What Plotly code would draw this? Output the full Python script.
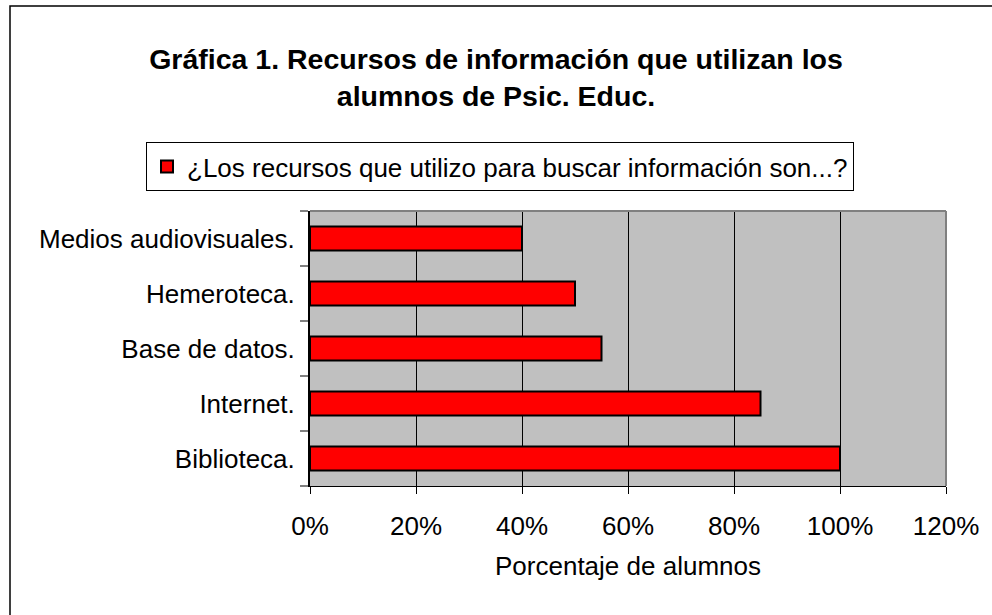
import plotly.graph_objects as go

categories = ["Biblioteca.", "Internet.", "Base de datos.", "Hemeroteca.", "Medios audiovisuales."]
values = [1.00, 0.85, 0.55, 0.50, 0.40]
x_ticks = [0, 0.2, 0.4, 0.6, 0.8, 1.0, 1.2]
x_tick_labels = ["0%", "20%", "40%", "60%", "80%", "100%", "120%"]
series_name = "¿Los recursos que utilizo para buscar información son...?"
title_text = "Gráfica 1. Recursos de información que utilizan los<br>alumnos de Psic. Educ."
x_title = "Porcentaje de alumnos"

W, H = 992, 615
L, R, T, B = 310, 946, 211, 486

def px_x(p):
    return (p - L) / (R - L)

def px_y(p):
    return (B - p) / (B - T)

FONT = "Liberation Sans, Arial, sans-serif"

fig = go.Figure()
fig.add_trace(go.Bar(
    y=categories, x=values, orientation="h", name=series_name,
    marker=dict(color="#FF0000", line=dict(color="black", width=2)),
    width=0.44, showlegend=True,
))

fig.update_layout(
    width=W, height=H,
    margin=dict(l=L, r=W - R, t=T, b=H - B, autoexpand=False),
    paper_bgcolor="white", plot_bgcolor="#C0C0C0",
    font=dict(family=FONT, size=26, color="black"),
    title=dict(text="<b>" + title_text + "</b>", x=0.5, xref="container", xanchor="center",
               y=1 - 69 / H, yref="container", yanchor="middle",
               font=dict(size=28.5, family=FONT, color="black")),
    showlegend=True,
    legend=dict(x=px_x(146), y=px_y(142), xanchor="left", yanchor="top",
                orientation="h", bordercolor="black", borderwidth=1,
                bgcolor="white", font=dict(size=26), itemwidth=30),
    xaxis=dict(range=[0, 1.2], tickvals=x_ticks, ticktext=x_tick_labels,
               showgrid=True, gridcolor="black", gridwidth=1,
               showline=True, linecolor="black", linewidth=1,
               ticks="outside", ticklen=7, tickcolor="black",
               ticklabelstandoff=10, zeroline=False,
               title=dict(text=x_title, standoff=16, font=dict(size=26))),
    yaxis=dict(showgrid=False, showline=True, linecolor="black", linewidth=2,
               ticks="outside", ticklen=8, tickcolor="#808080", tickwidth=2,
               tickson="boundaries", ticklabelstandoff=8),
)

# plot-area top/right border in grey
fig.add_shape(type="line", xref="paper", yref="paper", x0=0, x1=1, y0=1, y1=1,
              line=dict(color="#808080", width=2), layer="above")
fig.add_shape(type="line", xref="paper", yref="paper", x0=1, x1=1, y0=0, y1=1,
              line=dict(color="#808080", width=2), layer="above")
# outer chart border
fig.add_shape(type="rect", xref="paper", yref="paper",
              x0=px_x(10), x1=px_x(1010), y0=px_y(630), y1=px_y(6),
              line=dict(color="black", width=1.5), layer="below")

fig.write_html("out.html", config={"displayModeBar": False},
               post_script="document.body.style.margin='0';")
